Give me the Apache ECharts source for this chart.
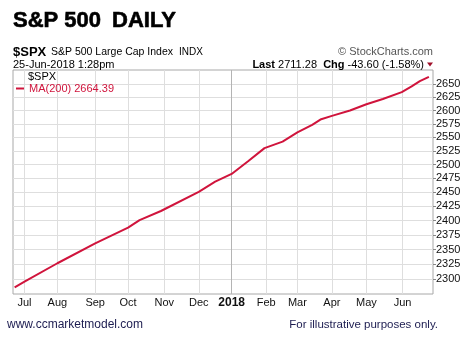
<!DOCTYPE html>
<html><head><meta charset="utf-8">
<script src="https://cdn.jsdelivr.net/npm/echarts@6/dist/echarts.min.js"></script>
<style>html,body{margin:0;padding:0;background:#fff}#c{width:469px;height:340px}</style>
</head><body><div id="c"></div>
<script>
// x = trading-day index (0 = 3-Jul-2017), y = 200-day moving average of $SPX
const tradingDay = [-6, 0, 20, 43, 63, 70, 83, 106, 116, 126, 136, 146, 157, 166, 175, 180, 187, 198, 208, 218, 229.5, 235.5, 240.5, 246];
const ma200 = [2286.6, 2296.0, 2327, 2361, 2388, 2401, 2417, 2451, 2469, 2483, 2506, 2530, 2542, 2559, 2573, 2583, 2590, 2600, 2612, 2622, 2635, 2646, 2656, 2664.39];
const monthTickDays = [0, 20, 43, 63, 85, 106, 126, 147, 166, 187, 208, 230];
const monthLabels = ['Jul', 'Aug', 'Sep', 'Oct', 'Nov', 'Dec', '2018', 'Feb', 'Mar', 'Apr', 'May', 'Jun'];
const priceTicks = [2300, 2325, 2350, 2375, 2400, 2425, 2450, 2475, 2500, 2525, 2550, 2575, 2600, 2625, 2650];
const lastPrice = '2711.28';
const chg = '-43.60';
const chgPct = '-1.58%';
const maLabel = 'MA(200)';

const RED = '#d0143c';
const FONT = '"Liberation Sans", Arial, sans-serif';
const chart = echarts.init(document.getElementById('c'), null, {renderer: 'canvas'});

const gridColors = monthTickDays.map((d, i) => monthLabels[i] === '2018' ? '#b4b4b4' : '#dedede');

chart.setOption({
  animation: false,
  backgroundColor: '#fff',
  textStyle: {fontFamily: FONT},
  grid: {left: 13, right: 36, top: 70, bottom: 46, show: true, borderColor: '#a8a8a8', borderWidth: 1, containLabel: false},
  legend: {
    data: [maLabel], left: 16, top: 83, padding: 0, itemWidth: 8, itemHeight: 2, icon: 'rect',
    formatter: n => n + ' ' + ma200[ma200.length - 1].toFixed(2),
    textStyle: {color: RED, fontSize: 11, fontFamily: FONT}
  },
  xAxis: {
    type: 'value', min: -7, max: 248.5,
    axisLine: {show: false, onZero: false}, axisTick: {show: false, customValues: monthTickDays},
    axisLabel: {
      customValues: monthTickDays, margin: 3, color: '#111', fontSize: 11, fontFamily: FONT,
      formatter: v => { const l = monthLabels[monthTickDays.indexOf(v)]; return l === '2018' ? '{y|' + l + '}' : l; },
      rich: {y: {fontWeight: 'bold', fontSize: 12, color: '#111', fontFamily: FONT}}
    },
    splitLine: {show: true, lineStyle: {color: gridColors, width: 1}}
  },
  yAxis: {
    type: 'log', logBase: 10, position: 'right', min: 2275.6, max: 2677.7,
    axisLine: {show: false, onZero: false},
    axisTick: {show: true, customValues: priceTicks, length: 3, lineStyle: {color: '#888'}},
    axisLabel: {customValues: priceTicks, margin: 3, color: '#111', fontSize: 11, fontFamily: FONT, formatter: v => String(Math.round(v))},
    splitLine: {show: true, lineStyle: {color: '#dedede', width: 1}}
  },
  series: [{
    name: maLabel, type: 'line', showSymbol: false, smooth: false,
    data: tradingDay.map((d, i) => [d, ma200[i]]),
    lineStyle: {color: RED, width: 2}, itemStyle: {color: RED}
  }],
  graphic: [
    {type: 'text', x: 13, y: 20.5, style: {text: 'S&P 500', font: 'bold 22px ' + FONT, fill: '#000', stroke: '#000', lineWidth: 0.6, verticalAlign: 'middle'}},
    {type: 'text', x: 112, y: 20.5, style: {text: 'DAILY', font: 'bold 22px ' + FONT, fill: '#000', stroke: '#000', lineWidth: 0.6, verticalAlign: 'middle'}},
    {type: 'text', x: 13, y: 52, style: {text: '$SPX', font: 'bold 13px ' + FONT, fill: '#000', verticalAlign: 'middle'}},
    {type: 'text', x: 51, y: 52, style: {text: 'S&P 500 Large Cap Index', font: '10.5px ' + FONT, fill: '#000', verticalAlign: 'middle'}},
    {type: 'text', x: 179, y: 52, style: {text: 'INDX', font: '10px ' + FONT, fill: '#000', verticalAlign: 'middle'}},
    {type: 'text', x: 433, y: 52, style: {text: '\u00A9 StockCharts.com', font: '11px ' + FONT, fill: '#555', align: 'right', verticalAlign: 'middle'}},
    {type: 'text', x: 13, y: 64.5, style: {text: '25-Jun-2018 1:28pm', font: '11px ' + FONT, fill: '#000', verticalAlign: 'middle'}},
    {type: 'text', x: 424, y: 64.5, style: {
      text: '{b|Last} ' + lastPrice + '  {b|Chg} ' + chg + ' (' + chgPct + ')',
      font: '11px ' + FONT, fill: '#000', align: 'right', verticalAlign: 'middle',
      rich: {b: {fontWeight: 'bold', fontSize: 11, fontFamily: FONT, fill: '#000'}}
    }},
    {type: 'polygon', shape: {points: [[427, 62.5], [433, 62.5], [430, 66.5]]}, style: {fill: '#a0102a'}},
    {type: 'text', x: 28, y: 77, style: {text: '$SPX', font: '11px ' + FONT, fill: '#000', verticalAlign: 'middle'}},
    {type: 'text', x: 7, y: 325, style: {text: 'www.ccmarketmodel.com', font: '12px ' + FONT, fill: '#1c1c50', verticalAlign: 'middle'}},
    {type: 'text', x: 438, y: 325, style: {text: 'For illustrative purposes only.', font: '11.5px ' + FONT, fill: '#1c1c50', align: 'right', verticalAlign: 'middle'}}
  ]
});
</script></body></html>
